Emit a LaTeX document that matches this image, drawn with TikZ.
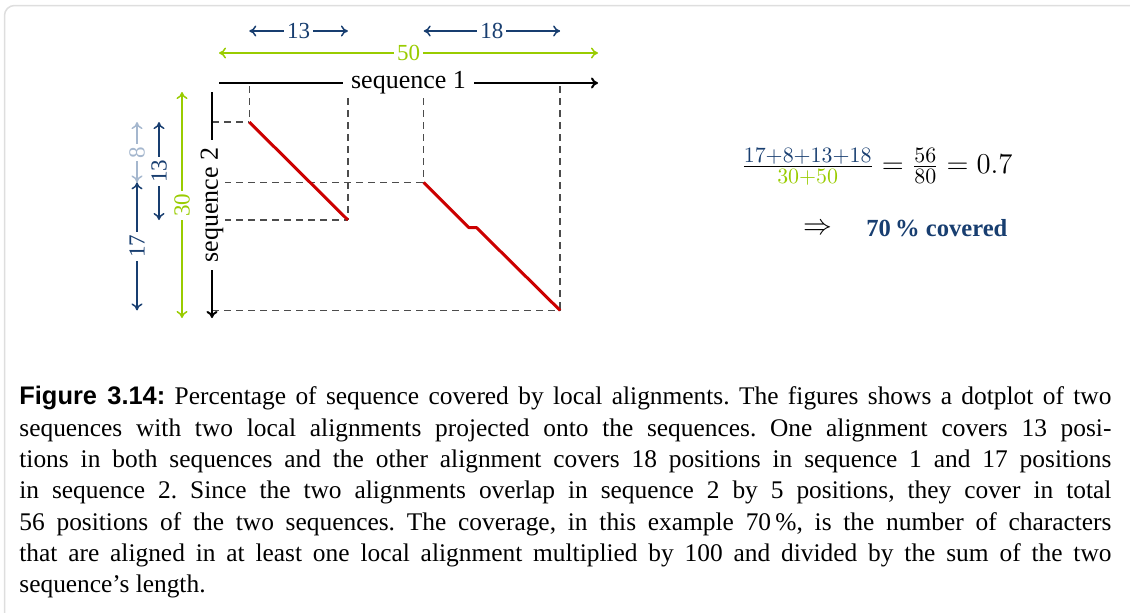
\documentclass[tikz,border=0pt]{standalone}
\usepackage[no-math]{fontspec}
\setmainfont{Liberation Serif}
\newfontfamily\capsans{Liberation Sans}
\usetikzlibrary{arrows.meta}
\definecolor{dblue}{RGB}{24,62,112}
\definecolor{lgreen}{RGB}{153,204,0}
\definecolor{lblue}{RGB}{165,183,206}
\definecolor{dred}{RGB}{204,0,0}
\definecolor{framegray}{RGB}{222,222,222}
\tikzset{
  cmtip/.tip={Computer Modern Rightarrow[length=3.5pt,width=5.5pt]},
  dimarrow/.style={line width=0.75pt, cmtip-cmtip},
  seqarrow/.style={line width=1pt, -cmtip},
  numlbl/.style={fill=white, inner sep=1.5pt, font=\fontsize{11.5}{13}\selectfont},
  seqlbl/.style={fill=white, inner xsep=4pt, inner ysep=1pt, font=\fontsize{13}{15}\selectfont},
  guide/.style={black!70, line width=0.75pt, dash pattern=on 3.5pt off 2.5pt},
  alnline/.style={dred, line width=1.5pt, line join=round},
}
\begin{document}
\begin{tikzpicture}[x=0.5pt,y=-0.5pt]
\useasboundingbox (0,0) rectangle (1130,612);
\begin{scope}
\clip (0,0) rectangle (1130,612);
\draw[framegray, line width=0.75pt, rounded corners=5pt] (4.5,5.5) rectangle (1150,640);
\end{scope}

% coordinates (unit grid: x0=219, 7.58 px; y0=92, 7.53 px)
\coordinate (s1a) at (219,83);
\coordinate (s1b) at (598,83);
\coordinate (s2a) at (212,92);
\coordinate (s2b) at (212,318);
\coordinate (A1) at (249.3,122.1);
\coordinate (A2) at (347.9,220.0);
\coordinate (B1) at (423.7,182.4);
\coordinate (Bk1) at (468.9,227.6);
\coordinate (Bk2) at (476.5,227.6);
\coordinate (B2) at (560.1,310.4);

% guides
\draw[guide] (A1 |- 0,86) -- (A1);
\draw[guide] (A2 |- 0,86) -- (A2);
\draw[guide] (B1 |- 0,86) -- (B1);
\draw[guide] (B2 |- 0,86) -- (B2);
\draw[guide] (s2a |- A1) -- (A1);
\draw[guide] (s2a |- B1) -- (B1);
\draw[guide] (s2a |- A2) -- (A2);
\draw[guide] (s2a |- B2) -- (B2);

% alignments
\draw[alnline] (A1) -- (A2);
\draw[alnline] (B1) -- (Bk1) -- (Bk2) -- (B2);

% sequence axes
\draw[seqarrow] (s1a) -- node[seqlbl] (seq1) {sequence 1} (s1b);
\draw[seqarrow] (s2a) -- node[seqlbl, rotate=90] (seq2) {sequence 2} (s2b);

% horizontal dimensions
\coordinate (h50a) at (219,53);
\coordinate (h50b) at (598,53);
\draw[dimarrow, lgreen] (h50a) -- node[numlbl, text=lgreen] (n50) {50} (h50b);
\coordinate (h13a) at (249.3,31);
\coordinate (h13b) at (347.9,31);
\draw[dimarrow, dblue] (h13a) -- node[numlbl, text=dblue] (n13h) {13} (h13b);
\coordinate (h18a) at (423.7,31);
\coordinate (h18b) at (560.1,31);
\draw[dimarrow, dblue] (h18a) -- node[numlbl, text=dblue] (n18) {18} (h18b);

% vertical dimensions
\coordinate (v30a) at (182,92);
\coordinate (v30b) at (182,318);
\draw[dimarrow, lgreen] (v30a) -- node[numlbl, text=lgreen, rotate=90] (n30) {30} (v30b);
\coordinate (v13a) at (159,122.1);
\coordinate (v13b) at (159,220.0);
\draw[dimarrow, dblue] (v13a) -- node[numlbl, text=dblue, rotate=90] (n13v) {13} (v13b);
\coordinate (v8a) at (137,122.1);
\coordinate (v8b) at (137,182.4);
\draw[dimarrow, lblue] (v8a) -- node[numlbl, text=lblue, rotate=90] (n8) {8} (v8b);
\coordinate (v17a) at (137,182.4);
\coordinate (v17b) at (137,310.4);
\draw[dimarrow, dblue] (v17a) -- node[numlbl, text=dblue, rotate=90] (n17) {17} (v17b);

% formula
\node[inner sep=0, font=\fontsize{15}{18}\selectfont] (frm) at (877,167)
  {$\frac{\textcolor{dblue}{17+8+13+18}}{\textcolor{lgreen}{30+50}} = \frac{56}{80} = 0.7$};
\node[inner sep=0, font=\fontsize{14}{16}\selectfont] (impl) at (818,229) {$\Rightarrow$};
\node[inner sep=0, anchor=base west, text=dblue, font=\fontsize{12.3}{15}\selectfont\bfseries] (cov) at (866,236) {70\,\% covered};

% caption
\node[inner sep=0, anchor=north west, text width=546pt, align=justify, font=\fontsize{12.7}{15.65}\selectfont\frenchspacing] (cap) at (19,386)
{\noindent{\capsans\bfseries Figure 3.14:} Percentage of sequence covered by local alignments. The figures shows a dotplot of two\linebreak
sequences with two local alignments projected onto the sequences. One alignment covers 13 posi-\linebreak
tions in both sequences and the other alignment covers 18 positions in sequence 1 and 17 positions\linebreak
in sequence 2. Since the two alignments overlap in sequence 2 by 5 positions, they cover in total\linebreak
56 positions of the two sequences. The coverage, in this example 70\,\%, is the number of characters\linebreak
that are aligned in at least one local alignment multiplied by 100 and divided by the sum of the two\linebreak
sequence’s length.};
\end{tikzpicture}
\end{document}
